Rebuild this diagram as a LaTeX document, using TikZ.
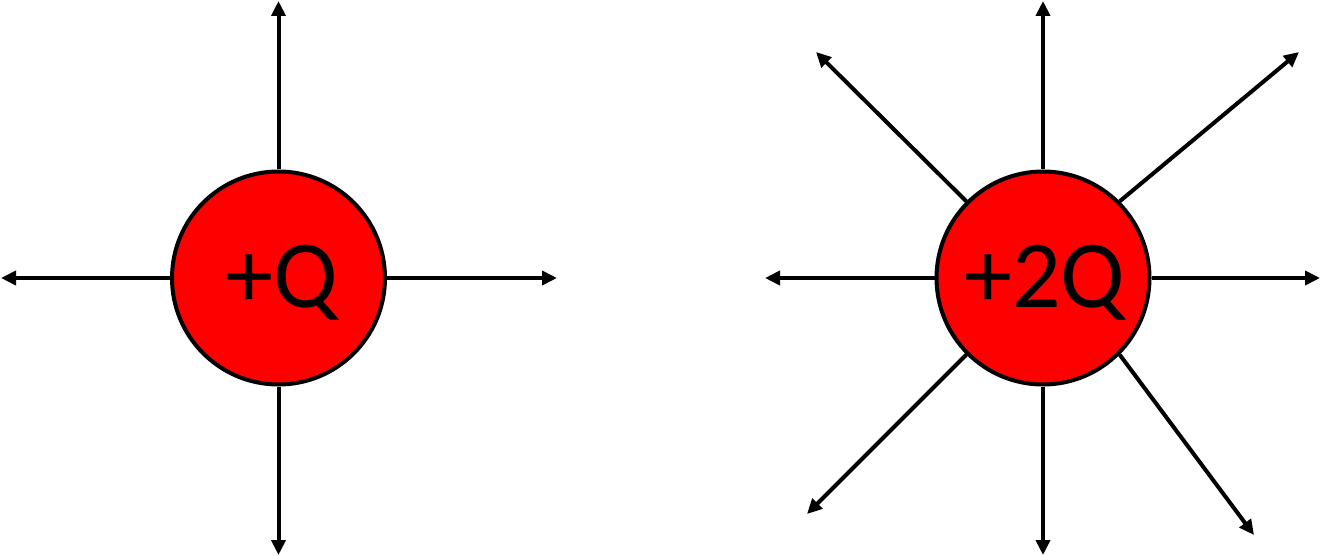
\documentclass[tikz,border=0pt]{standalone}
\usepackage{fontspec}
\setmainfont{Carlito}
\usetikzlibrary{arrows.meta}
\definecolor{chargered}{RGB}{255,0,0}
\tikzset{
  charge/.style={circle, draw=black, line width=4pt, fill=chargered, minimum size=213pt, inner sep=0pt},
  chargelabel/.style={anchor=base, inner sep=0pt, font=\fontsize{96}{110}\selectfont},
  fieldline/.style={line width=4pt, -{Triangle[length=15pt,width=14pt]}}
}
\begin{document}
\begin{tikzpicture}[x=1pt,y=-1pt]
\useasboundingbox (0,0) rectangle (1321,556);
% left charge
\node[charge] (c1) at (278.5,278) {};
\node[chargelabel] (t1) at (282,307.5) {+Q};
\coordinate (l1u) at (278.5,1);
\coordinate (l1d) at (278.5,555);
\coordinate (l1l) at (1,278);
\coordinate (l1r) at (557,278);
\draw[fieldline] (c1.north) -- (l1u);
\draw[fieldline] (c1.south) -- (l1d);
\draw[fieldline] (c1.west) -- (l1l);
\draw[fieldline] (c1.east) -- (l1r);
% right charge
\node[charge] (c2) at (1043,278) {};
\node[chargelabel] (t2) at (1045,307.5) {+2Q};
\coordinate (l2u) at (1043,1);
\coordinate (l2d) at (1043,555);
\coordinate (l2l) at (765,278);
\coordinate (l2r) at (1320,278);
\coordinate (l2ul) at (816,52);
\coordinate (l2ur) at (1299,52);
\coordinate (l2ll) at (807,514);
\coordinate (l2lr) at (1254,535);
\draw[fieldline] (c2.north) -- (l2u);
\draw[fieldline] (c2.south) -- (l2d);
\draw[fieldline] (c2.west) -- (l2l);
\draw[fieldline] (c2.east) -- (l2r);
\draw[fieldline] (c2.135) -- (l2ul);
\draw[fieldline] (c2.45) -- (l2ur);
\draw[fieldline] (c2.-135) -- (l2ll);
\draw[fieldline] (c2.-45) -- (l2lr);
\end{tikzpicture}
\end{document}
